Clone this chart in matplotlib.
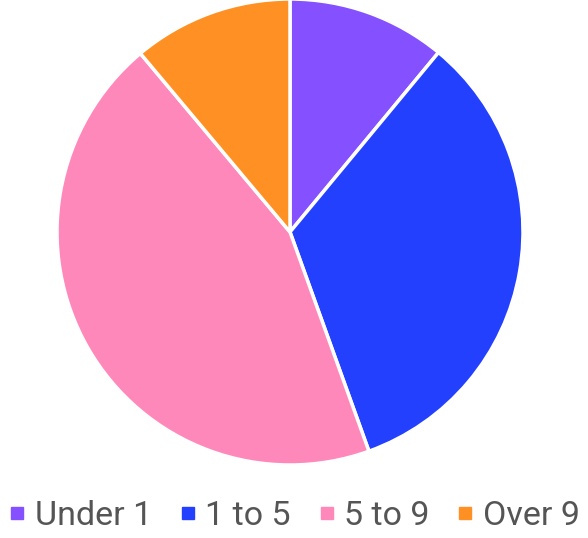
import matplotlib.pyplot as plt
from matplotlib.lines import Line2D

labels = ['Under 1', '1 to 5', '5 to 9', 'Over 9']
values = [11.0, 33.5, 44.4, 11.1]
colors = ['#8550FF', '#2340FF', '#FF88BB', '#FF9124']

plt.rcParams['font.family'] = ['Roboto', 'DejaVu Sans']

fig = plt.figure(figsize=(5.88, 5.38), dpi=100)
ax = fig.add_axes([(290 - 233) / 588, (538 - 232 - 233) / 538, 466 / 588, 466 / 538])

ax.pie(values, colors=colors, startangle=90, counterclock=False, radius=1,
       wedgeprops=dict(edgecolor='white', linewidth=2.5))
ax.set_xlim(-1, 1)
ax.set_ylim(-1, 1)
ax.set_aspect('equal')

# legend with small square markers
handles = [Line2D([], [], marker='s', linestyle='', markersize=9,
                  markerfacecolor=c, markeredgecolor=c) for c in colors]
fig.legend(handles, labels, loc='lower center', bbox_to_anchor=(0.502, -0.045),
           ncol=4, frameon=False, fontsize=24.5, labelcolor='#555555',
           handlelength=0.4, handletextpad=0.32, columnspacing=0.85)

fig.savefig('out.png', dpi=100)
